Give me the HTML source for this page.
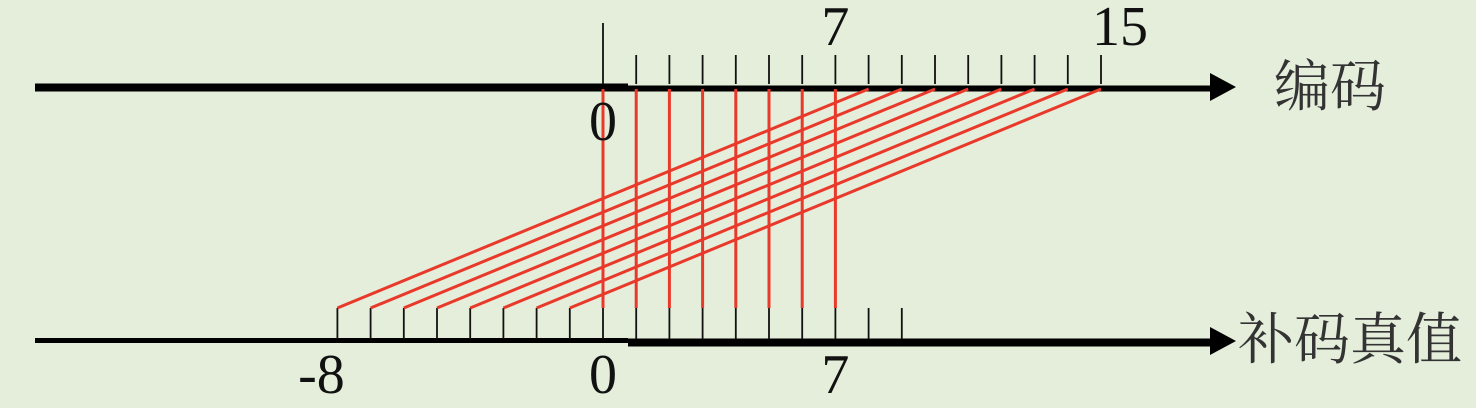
<!DOCTYPE html>
<html><head><meta charset="utf-8"><style>
html,body{margin:0;padding:0;background:#e4eedb;}
svg{display:block;}
.num{font-family:"Liberation Serif",serif;font-size:56px;fill:#111;}
.cjk{font-family:"Liberation Serif","Noto Serif CJK SC",serif;font-size:56px;fill:#333;}
</style></head><body>
<svg id="chart" width="1476" height="408" viewBox="0 0 1476 408" xmlns="http://www.w3.org/2000/svg">
<rect width="1476" height="408" fill="#e4eedb"/>
<g id="g"></g>
<text class="cjk" x="1274" y="106">编码</text>
<text class="cjk" x="1238" y="359">补码真值</text>
</svg>
<script>
const codes=[0,1,2,3,4,5,6,7,8,9,10,11,12,13,14,15];
const values=[0,1,2,3,4,5,6,7,-8,-7,-6,-5,-4,-3,-2,-1];
const bottomTicks=[-8,-7,-6,-5,-4,-3,-2,-1,0,1,2,3,4,5,6,7,8,9];
const topLabels=[0,7,15];
const bottomLabels=[-8,0,7];
const X=v=>603+v*33.2;
const NS="http://www.w3.org/2000/svg";
const g=document.getElementById('g');
function mk(t,a){const e=document.createElementNS(NS,t);for(const k in a)e.setAttribute(k,a[k]);g.appendChild(e);return e;}
let e;
e=mk('line',{x1:35,y1:87.5,x2:628,y2:87.5,stroke:'#000','stroke-width':8});


e=mk('line',{x1:628,y1:88.5,x2:1212,y2:88.5,stroke:'#000','stroke-width':6});


e=mk('polygon',{points:'1210,73 1236,87 1210,101',fill:'#000'});


e=mk('line',{x1:35,y1:340.5,x2:628,y2:340.5,stroke:'#000','stroke-width':5});


e=mk('line',{x1:628,y1:342.5,x2:1212,y2:342.5,stroke:'#000','stroke-width':8});


e=mk('polygon',{points:'1210,327 1236,341 1210,355',fill:'#000'});


codes.forEach(c=>{
  const t=mk('line',{x1:X(c),y1:c===0?23:55,x2:X(c),y2:84,stroke:'#111','stroke-width':1.8});
  
  
});
bottomTicks.forEach(v=>{
  const t=mk('line',{x1:X(v),y1:308,x2:X(v),y2:339,stroke:'#111','stroke-width':1.8});
  
  
});
codes.forEach((c,i)=>{
  const l=mk('line',{x1:X(c),y1:89,x2:X(values[i]),y2:308,stroke:'#e8392b','stroke-width':3});
  
  
});
topLabels.forEach(v=>{
  const t=mk('text',{class:'num',x:X(v),y:45,'text-anchor':'middle'});
  if(v===0){t.setAttribute('y',140);}
  else if(v===15){t.setAttribute('x',X(v)+19);}
  t.textContent=v;
  
  
});
bottomLabels.forEach(v=>{
  const t=mk('text',{class:'num',x:v<0?X(v)-16:X(v),y:393,'text-anchor':'middle'});
  t.textContent=v;
  
  
});
</script>
</body></html>
